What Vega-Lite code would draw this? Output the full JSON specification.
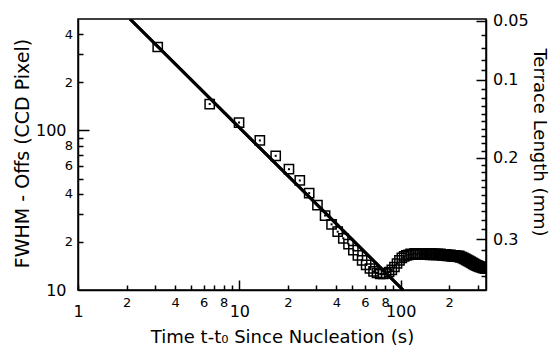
{
  "$schema": "https://vega.github.io/schema/vega-lite/v6.json",
  "width": 408,
  "height": 271,
  "autosize": {"type": "none"},
  "padding": {"left": 78, "top": 19, "right": 64, "bottom": 59},
  "background": "white",
  "config": {
    "view": {"stroke": "black", "strokeWidth": 1.5},
    "axis": {
      "grid": false,
      "domainColor": "black",
      "domainWidth": 1.5,
      "tickColor": "black",
      "tickWidth": 1.5,
      "labelColor": "black",
      "titleColor": "black",
      "labelFont": "DejaVu Sans",
      "titleFont": "DejaVu Sans",
      "titleFontWeight": "normal",
      "labelOverlap": false,
      "labelFlush": false,
      "labelBound": false
    }
  },
  "datasets": {
    "pts": [
      {"t": 3.12, "F": 333.8}, {"t": 6.55, "F": 146.5}, {"t": 9.96, "F": 112.2}, {"t": 13.4, "F": 86.6},
      {"t": 16.8, "F": 69.4}, {"t": 20.3, "F": 57.2}, {"t": 23.7, "F": 48.6}, {"t": 27.1, "F": 40.5},
      {"t": 30.5, "F": 34.0}, {"t": 34.0, "F": 29.3}, {"t": 37.3, "F": 25.8}, {"t": 40.7, "F": 23.2},
      {"t": 44.1, "F": 21.1}, {"t": 47.5, "F": 19.4}, {"t": 50.9, "F": 17.8}, {"t": 54.3, "F": 16.47},
      {"t": 57.7, "F": 15.32}, {"t": 61.1, "F": 14.35}, {"t": 64.5, "F": 13.64}, {"t": 67.9, "F": 13.07},
      {"t": 71.3, "F": 12.78}, {"t": 74.7, "F": 12.6}, {"t": 77.9, "F": 12.6}, {"t": 81.3, "F": 12.7},
      {"t": 84.7, "F": 12.97}, {"t": 88.1, "F": 13.35}, {"t": 91.5, "F": 13.94}, {"t": 94.9, "F": 14.66},
      {"t": 98.3, "F": 15.32}, {"t": 101.7, "F": 15.88}, {"t": 105.1, "F": 16.23}, {"t": 108.5, "F": 16.47},
      {"t": 111.9, "F": 16.59}, {"t": 115.3, "F": 16.83}, {"t": 118.7, "F": 16.71}, {"t": 122.1, "F": 16.95},
      {"t": 125.5, "F": 16.71}, {"t": 128.9, "F": 16.95}, {"t": 132.3, "F": 16.71}, {"t": 135.7, "F": 16.95},
      {"t": 139.1, "F": 16.71}, {"t": 142.5, "F": 16.95}, {"t": 145.9, "F": 16.71}, {"t": 149.3, "F": 16.95},
      {"t": 152.7, "F": 16.59}, {"t": 156.1, "F": 16.95}, {"t": 159.5, "F": 16.59}, {"t": 162.9, "F": 16.83},
      {"t": 166.3, "F": 16.59}, {"t": 169.7, "F": 16.83}, {"t": 173.1, "F": 16.59}, {"t": 176.5, "F": 16.83},
      {"t": 179.9, "F": 16.47}, {"t": 183.3, "F": 16.71}, {"t": 186.7, "F": 16.47}, {"t": 190.1, "F": 16.71},
      {"t": 193.5, "F": 16.35}, {"t": 196.9, "F": 16.59}, {"t": 200.3, "F": 16.35}, {"t": 203.7, "F": 16.59},
      {"t": 207.1, "F": 16.23}, {"t": 210.5, "F": 16.47}, {"t": 213.9, "F": 16.23}, {"t": 217.3, "F": 16.47},
      {"t": 220.7, "F": 16.23}, {"t": 224.1, "F": 16.35}, {"t": 227.5, "F": 16.11}, {"t": 230.9, "F": 16.35},
      {"t": 234.3, "F": 16.0}, {"t": 237.7, "F": 16.11}, {"t": 241.1, "F": 15.88}, {"t": 244.5, "F": 15.88},
      {"t": 247.9, "F": 15.65}, {"t": 251.3, "F": 15.65}, {"t": 254.7, "F": 15.43}, {"t": 258.1, "F": 15.43},
      {"t": 261.5, "F": 15.21}, {"t": 264.9, "F": 15.21}, {"t": 268.3, "F": 14.99}, {"t": 271.7, "F": 14.99},
      {"t": 275.1, "F": 14.77}, {"t": 278.5, "F": 14.77}, {"t": 281.9, "F": 14.56}, {"t": 285.3, "F": 14.56},
      {"t": 288.7, "F": 14.35}, {"t": 292.1, "F": 14.35}, {"t": 295.5, "F": 14.25}, {"t": 298.9, "F": 14.15},
      {"t": 302.3, "F": 14.15}, {"t": 305.7, "F": 14.05}, {"t": 309.1, "F": 13.94}, {"t": 312.5, "F": 13.94},
      {"t": 315.9, "F": 13.94}, {"t": 319.3, "F": 13.84}, {"t": 322.7, "F": 13.74}, {"t": 326.1, "F": 13.74},
      {"t": 329.5, "F": 13.74}, {"t": 332.9, "F": 13.64}, {"t": 336.3, "F": 13.64}
    ],
    "fit": [
      {"t": 2.1, "F": 500},
      {"t": 103.5, "F": 10}
    ]
  },
  "layer": [
    {
      "data": {"name": "pts"},
      "mark": {"type": "point", "shape": "square", "size": 85, "strokeWidth": 1.5, "color": "black", "filled": false, "opacity": 1, "clip": true},
      "encoding": {
        "x": {
          "field": "t", "type": "quantitative",
          "scale": {"type": "log", "domain": [1, 338], "nice": false},
          "axis": {
            "orient": "bottom",
            "values": [1, 2, 3, 4, 5, 6, 7, 8, 9, 10, 20, 30, 40, 50, 60, 70, 80, 90, 100, 200, 300],
            "labels": false,
            "tickSize": {"expr": "datum.value == 10 || datum.value == 100 ? -10 : -5"},
            "title": null
          }
        },
        "y": {
          "field": "F", "type": "quantitative",
          "scale": {"type": "log", "domain": [10, 500], "nice": false},
          "axis": {
            "orient": "left",
            "values": [20, 30, 40, 50, 60, 70, 80, 90, 100, 200, 300, 400],
            "labels": false,
            "tickSize": {"expr": "datum.value == 100 ? -11 : -5"},
            "title": null
          }
        }
      }
    },
    {
      "data": {"name": "pts"},
      "mark": {"type": "square", "size": 4, "color": "black", "opacity": 1, "clip": true},
      "encoding": {
        "x": {
          "field": "t", "type": "quantitative",
          "scale": {"type": "log", "domain": [1, 338], "nice": false},
          "axis": {
            "orient": "bottom",
            "values": [1, 2, 4, 6, 8, 10, 20, 40, 60, 80, 100, 200],
            "ticks": false,
            "domain": false,
            "labelExpr": "datum.value == 1 ? '1' : datum.value == 10 ? '10' : datum.value == 100 ? '100' : datum.value < 10 ? format(datum.value, 'd') : datum.value < 100 ? format(datum.value / 10, 'd') : format(datum.value / 100, 'd')",
            "labelFontSize": {"expr": "datum.value == 1 || datum.value == 10 || datum.value == 100 ? 16 : 13"},
            "labelPadding": {"expr": "datum.value == 1 || datum.value == 10 || datum.value == 100 ? 13 : 6"},
            "title": "Time t-t₀ Since Nucleation (s)",
            "titleFontSize": 18,
            "titleBaseline": "alphabetic",
            "titleY": 52
          }
        },
        "y": {
          "field": "F", "type": "quantitative",
          "scale": {"type": "log", "domain": [10, 500], "nice": false},
          "axis": {
            "orient": "left",
            "values": [10, 20, 40, 60, 80, 100, 200, 400],
            "ticks": false,
            "domain": false,
            "labelExpr": "datum.value == 10 ? '10' : datum.value == 100 ? '100' : datum.value < 100 ? format(datum.value / 10, 'd') : format(datum.value / 100, 'd')",
            "labelFontSize": {"expr": "datum.value == 10 || datum.value == 100 ? 16 : 13"},
            "labelPadding": {"expr": "datum.value == 10 || datum.value == 100 ? 12 : 5.5"},
            "title": "FWHM - Offs (CCD Pixel)",
            "titleFontSize": 19,
            "titleAngle": -90,
            "titleBaseline": "alphabetic",
            "titleAlign": "center",
            "titleX": -50,
            "titleY": 134
          }
        }
      }
    },
    {
      "data": {"name": "fit"},
      "mark": {"type": "line", "color": "black", "strokeWidth": 3, "clip": true},
      "encoding": {
        "x": {"field": "t", "type": "quantitative", "scale": {"type": "log", "domain": [1, 338], "nice": false}, "axis": null},
        "y": {
          "field": "F", "type": "quantitative",
          "scale": {"type": "log", "domain": [10, 500], "nice": false},
          "axis": {
            "orient": "right",
            "values": [487.4, 394.07, 327.4, 277.4, 238.51, 207.4, 181.95, 160.73, 142.78, 127.4, 114.07, 102.4, 92.11, 82.96, 74.77, 67.4, 60.73, 54.67, 49.14, 44.07, 39.4, 35.09, 31.1, 27.4, 23.95, 20.73, 17.72, 14.9, 12.25],
            "labels": false,
            "tickSize": {"expr": "datum.value == 487.4 || datum.value == 207.4 || datum.value == 67.4 || datum.value == 20.73 ? -10 : -5"},
            "title": null
          }
        }
      }
    },
    {
      "data": {"name": "fit"},
      "mark": {"type": "line", "color": "black", "strokeWidth": 3, "clip": true},
      "encoding": {
        "x": {"field": "t", "type": "quantitative", "scale": {"type": "log", "domain": [1, 338], "nice": false}, "axis": null},
        "y": {
          "field": "F", "type": "quantitative",
          "scale": {"type": "log", "domain": [10, 500], "nice": false},
          "axis": {
            "orient": "right",
            "values": [487.4, 207.4, 67.4, 20.73],
            "ticks": false,
            "domain": false,
            "labelExpr": "datum.value == 487.4 ? '0.05' : datum.value == 207.4 ? '0.1' : datum.value == 67.4 ? '0.2' : datum.value == 20.73 ? '0.3' : ''",
            "labelFontSize": 16,
            "labelPadding": 6.5,
            "title": "Terrace Length (mm)",
            "titleFontSize": 18,
            "titleAngle": 90,
            "titleBaseline": "alphabetic",
            "titleAlign": "center",
            "titleX": 47,
            "titleY": 123
          }
        }
      }
    }
  ],
  "resolve": {"axis": {"x": "independent", "y": "independent"}}
}
